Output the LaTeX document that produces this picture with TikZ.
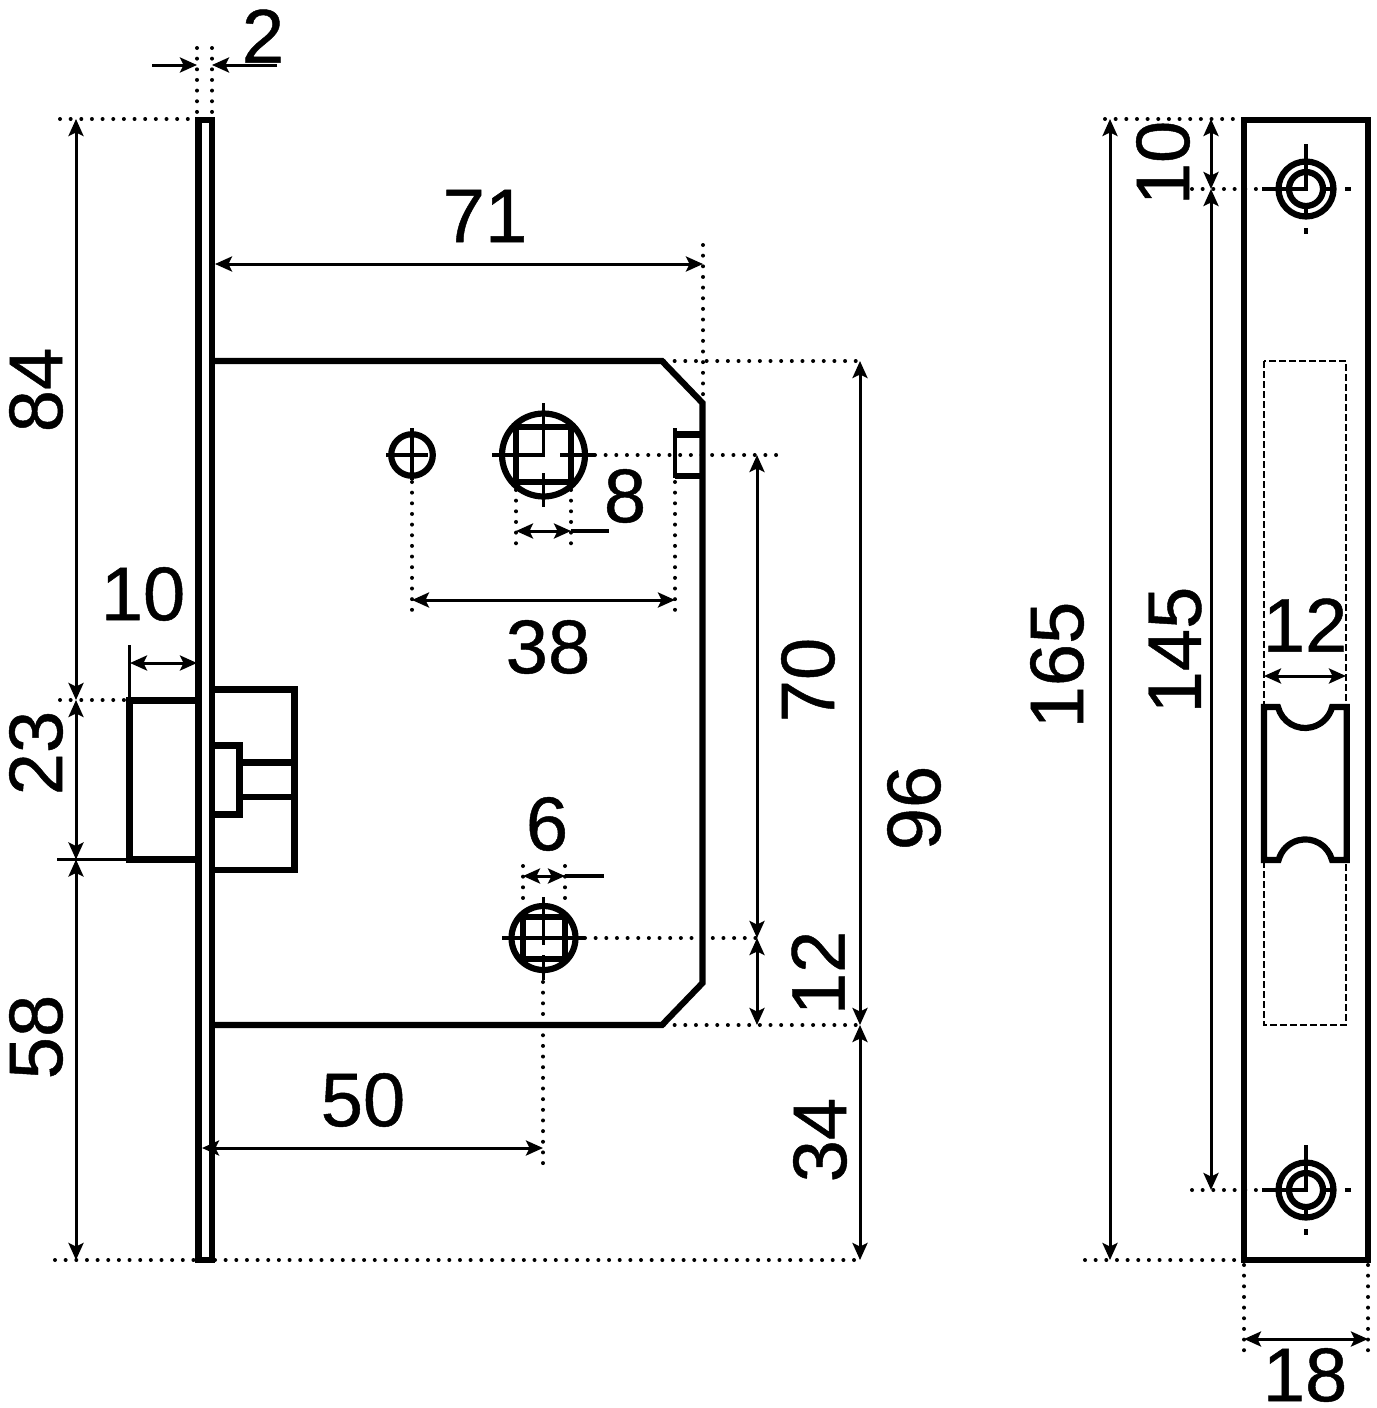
\documentclass[tikz,border=0pt]{standalone}
\usepackage{fontspec}
\setmainfont{Liberation Sans}
\newfontfamily\dimfont[FakeBold=0.6]{Liberation Sans}
\usetikzlibrary{arrows.meta}
\tikzset{
  thickline/.style={line width=6.2pt,line join=miter,line cap=butt},
  midline/.style={line width=4pt,line cap=butt},
  thinline/.style={line width=3.2pt,line cap=butt},
  dotline/.style={line width=4pt,line cap=round,dash pattern=on 0pt off 10.65pt},
  dimline/.style={line width=3pt,{Stealth[length=17pt,width=15pt,inset=3.5pt]}-{Stealth[length=17pt,width=15pt,inset=3.5pt]}},
  endtip/.style={line width=3pt,-{Stealth[length=17pt,width=15pt,inset=3.5pt]}},
  lbl/.style={inner sep=0pt,font=\dimfont\fontsize{76}{76}\selectfont},
  lblr/.style={lbl,rotate=90}
}
\begin{document}
\begin{tikzpicture}[x=1pt,y=-1pt]
\useasboundingbox (0,0) rectangle (1376,1408);
% dotted extension lines
\foreach \a/\b in {
 {197,48}/{197,118},{212,48}/{212,118},
 {60,119}/{195,119},{60,700}/{126,700},{55,1260}/{195,1260},{215,1260}/{860,1260},
 {703,245}/{703,400},{664,361}/{860,361},{664,1025}/{860,1025},
 {595,455}/{778,455},{585,938}/{760,938},
 {412,482}/{412,618},{675,482}/{675,618},{516,490}/{516,545},{571,490}/{571,545},
 {523,866}/{523,905},{565,866}/{565,905},{543,982}/{543,1165},
 {1105,119}/{1241,119},{1085,1260}/{1241,1260},{1192,189}/{1262,189},{1192,1190}/{1262,1190},
 {1244,1265}/{1244,1360},{1368,1265}/{1368,1360}}
 {\draw[dotline] (\a) -- (\b);}
% mortise plate
\draw[thickline] (198.5,120) rectangle (212,1260);
% lock case
\draw[thickline] (212,361) -- (662,361) -- (702.5,403) -- (702.5,983) -- (662,1025) -- (212,1025);
% latch bolt and inner parts
\draw[thickline] (129.5,700.5) rectangle (198.5,859.5);
\draw[thickline] (212,689.5) -- (294.5,689.5) -- (294.5,870) -- (212,870);
\draw[thickline] (212,745.5) -- (239.5,745.5) -- (239.5,814.5) -- (212,814.5);
\draw[thickline] (239.5,762.5) -- (294.5,762.5) (239.5,797) -- (294.5,797);
% stub
\draw[midline] (675,428) -- (675,478);
\draw[thickline] (675,434.5) -- (702.5,434.5) (675,476) -- (702.5,476);
% small hole
\draw[thickline] (412,455) circle (20.8);
\draw[thinline] (386,455) -- (428,455) (412,428) -- (412,480);
% big spindle
\draw[thickline] (543.5,455) circle (41.5);
\draw[thickline] (516,427) rectangle (571,482);
\draw[thinline] (543.5,403) -- (543.5,455) -- (492,455) (560,455) -- (595,455) (543.5,473) -- (543.5,507);
% lower spindle
\draw[thickline] (543.5,938) circle (32);
\draw[thickline] (522.7,917) rectangle (565,959);
\draw[thinline] (502,938) -- (585,938) (543.5,897) -- (543.5,945) (543.5,955) -- (543.5,980);
% faceplate
\draw[thickline] (1244,120) rectangle (1368,1260);
\draw[line width=1.6pt,dash pattern=on 7pt off 3pt] (1264,361) rectangle (1346,1025);
\draw[thickline,fill=white] (1264,707) -- (1278,707) arc[start angle=165.7,end angle=14.3,radius=27.9] -- (1346.7,707) -- (1346.7,860) -- (1332,860) arc[start angle=-14.7,end angle=-165.3,radius=27.6] -- (1264,860) -- cycle;
% screws
\foreach \y in {189,1190}{
 \draw[thickline] (1306,\y) circle (27.5);
 \draw[thickline] (1306,\y) circle (17);
 \draw[thinline] (1262,\y) -- (1306,\y) -- (1306,\y-45);
 \draw[thinline] (1320,\y) -- (1335,\y);
 \draw[thinline] (1306,\y+18) -- (1306,\y+26);
 \draw[midline] (1345,\y) -- (1351,\y) (1306,\y+39) -- (1306,\y+45);
}
% dimension lines
\draw[thinline] (129.5,645) -- (129.5,700);
\draw[thinline] (57,859.5) -- (127,859.5);
\draw[endtip] (152,65) -- (197,65);
\draw[endtip] (277,65) -- (212,65);
\draw[dimline] (76,119) -- (76,700);
\draw[dimline] (76,700) -- (76,859.5);
\draw[dimline] (76,859.5) -- (76,1260);
\draw[dimline] (130,663) -- (197,663);
\draw[dimline] (215,264) -- (703,264);
\draw[dimline] (412,600) -- (675,600);
\draw[dimline] (516,531) -- (571,531);
\draw[thinline] (571,531) -- (609,531);
\draw[dimline] (523,876) -- (565,876);
\draw[thinline] (565,876) -- (604,876);
\draw[dimline] (202,1148) -- (543,1148);
\draw[dimline] (757,455) -- (757,938);
\draw[dimline] (757,938) -- (757,1025);
\draw[dimline] (860,361) -- (860,1025);
\draw[dimline] (860,1025) -- (860,1260);
\draw[dimline] (1110,119) -- (1110,1260);
\draw[dimline] (1211,119) -- (1211,189);
\draw[dimline] (1211,189) -- (1211,1190);
\draw[dimline] (1264,676) -- (1346,676);
\draw[dimline] (1244,1339) -- (1368,1339);
% labels
\node[lbl] (n2) at (263,36) {2};
\node[lbl] (n71) at (485,216) {71};
\node[lbl] (n10a) at (143,594) {10};
\node[lbl] (n8) at (625,496) {8};
\node[lbl] (n38) at (548,647) {38};
\node[lbl] (n6) at (547,824) {6};
\node[lbl] (n50) at (363,1100) {50};
\node[lbl] (n12b) at (1305,625) {12};
\node[lbl] (n18) at (1305,1375) {18};
\node[lblr] (n84) at (36,390) {84};
\node[lblr] (n23) at (36,753) {23};
\node[lblr] (n58) at (36,1037) {58};
\node[lblr] (n70) at (808,680) {70};
\node[lblr] (n12a) at (818,973) {12};
\node[lblr] (n96) at (914,808) {96};
\node[lblr] (n34) at (820,1140) {34};
\node[lblr] (n165) at (1057,665) {165};
\node[lblr] (n145) at (1175,650) {145};
\node[lblr] (n10b) at (1163,163) {10};
\end{tikzpicture}
\end{document}
